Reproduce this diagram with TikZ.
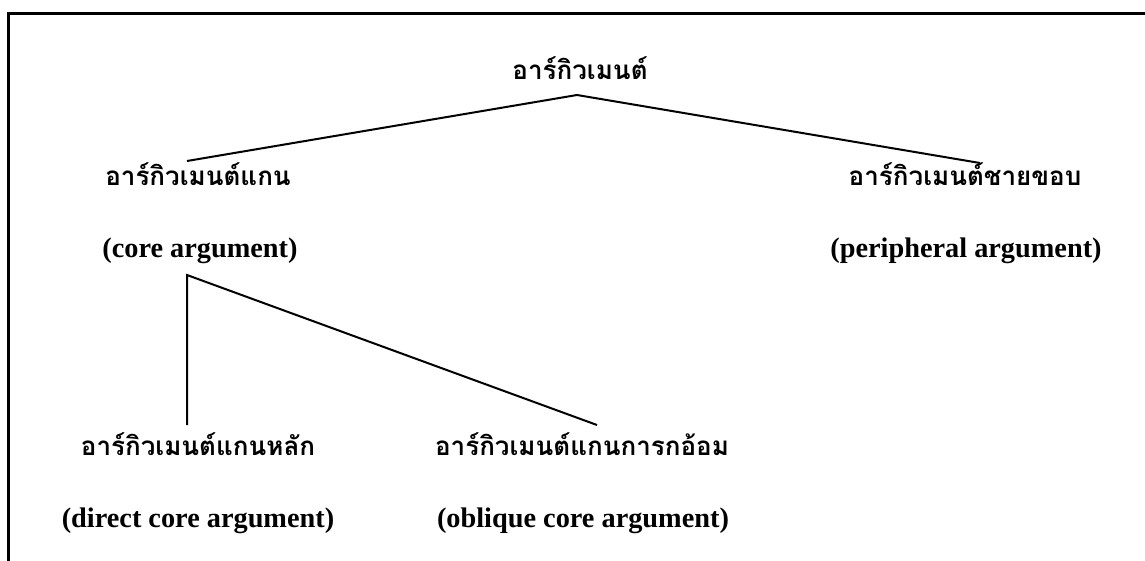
\documentclass[tikz,border=0pt]{standalone}
\usepackage{fontspec}
\setmainfont{Liberation Serif}
\newfontfamily\thaifont[Script=Thai]{Loma}
\usetikzlibrary{calc}
\begin{document}
\begin{tikzpicture}[x=1pt,y=-1pt,
  thai/.style={font=\thaifont\bfseries\fontsize{26}{30}\selectfont, anchor=base, inner sep=0pt},
  latin/.style={font=\bfseries\fontsize{28.3}{32}\selectfont, anchor=base, inner sep=0pt},
  branch/.style={line width=2pt, line join=miter}]
  \useasboundingbox (0,0) rectangle (1145,560);
  \begin{scope}
    \clip (0,0) rectangle (1145,560);
    \draw[line width=3pt] (8,13) rectangle (1170,590);
  \end{scope}

  % labels
  \node[thai]  (root)      at (580,79)  {อาร์กิวเมนต์};
  \node[thai]  (core)      at (198,185) {อาร์กิวเมนต์แกน};
  \node[latin] (coreen)    at (200,257) {(core argument)};
  \node[thai]  (peri)      at (965,185) {อาร์กิวเมนต์ชายขอบ};
  \node[latin] (perien)    at (966,257) {(peripheral argument)};
  \node[thai]  (direct)    at (198,455) {อาร์กิวเมนต์แกนหลัก};
  \node[latin] (directen)  at (198,527) {(direct core argument)};
  \node[thai]  (oblique)   at (582,455) {อาร์กิวเมนต์แกนการกอ้อม};
  \node[latin] (obliqueen) at (583,527) {(oblique core argument)};

  % branch points
  \coordinate (rootfork) at (577,95);
  \coordinate (corefork) at (187,275);
  \coordinate (coretop)  at (187,161);
  \coordinate (peritop)  at (980,163);
  \coordinate (directtop)  at (187,425);
  \coordinate (obliquetop) at (597,425);

  \draw[branch] (coretop) -- (rootfork) -- (peritop);
  \draw[branch] (directtop) -- (corefork) -- (obliquetop);
\end{tikzpicture}
\end{document}
